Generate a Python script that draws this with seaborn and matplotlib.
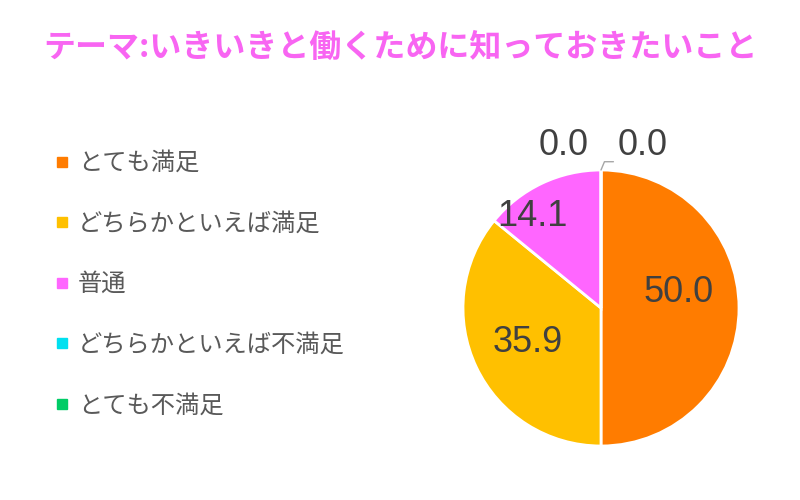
import numpy as np
import matplotlib
matplotlib.use("Agg")
import matplotlib.pyplot as plt
from matplotlib.lines import Line2D
import seaborn as sns

# data
categories = ["とても満足", "どちらかといえば満足", "普通", "どちらかといえば不満足", "とても不満足"]
values = [50.0, 35.9, 14.1, 0.0, 0.0]
colors = ["#FF7C00", "#FFC000", "#FF66FF", "#00E0F0", "#00CC66"]
title = "テーマ:いきいきと働くために知っておきたいこと"

sns.set_theme(style="white")
plt.rcParams["font.family"] = ["Noto Sans CJK JP", "DejaVu Sans"]

fig = plt.figure(figsize=(8, 5), dpi=100)
fig.patch.set_facecolor("white")

fig.text(0.5, 0.905, title, ha="center", va="center", fontsize=23,
         fontweight="bold", color="#F865F2")

# pie axes: centre (601, 308) px, radius 138 px
ax = fig.add_axes([(601 - 138) / 800, (500 - 446) / 500, 276 / 800, 276 / 500])
wedges, _ = ax.pie(values, colors=colors, startangle=90, counterclock=False,
                   radius=1.0, wedgeprops=dict(edgecolor="white", linewidth=2))
ax.set_xlim(-1, 1)
ax.set_ylim(-1, 1)
ax.set_aspect("equal")
ax.axis("off")

# value labels
label_font = dict(family=["Liberation Sans", "DejaVu Sans"], fontsize=26, color="#404040")
inner = [(0.565, 0.11), (-0.53, -0.25), (-0.50, 0.66)]
for (x, y), v in zip(inner, values[:3]):
    ax.text(x, y, f"{v:.1f}", ha="center", va="center", **label_font)

# zero slices sit at the top
ax.text(-0.27, 1.18, f"{values[3]:.1f}", ha="center", va="center", clip_on=False, **label_font)
ax.text(0.30, 1.18, f"{values[4]:.1f}", ha="center", va="center", clip_on=False, **label_font)
ax.plot([0.0, 0.025, 0.09], [1.0, 1.06, 1.06], color="#A6A6A6", lw=1, clip_on=False)

# legend
handles = [Line2D([0], [0], marker="s", linestyle="", markersize=7,
                  markerfacecolor=c, markeredgecolor=c) for c in colors]
leg = fig.legend(handles, categories, loc="upper left", bbox_to_anchor=(0.052, 0.724),
                 frameon=False, fontsize=17.5, labelspacing=1.42, handlelength=0.7,
                 handletextpad=0.3, borderpad=0)
for t in leg.get_texts():
    t.set_color("#595959")

fig.savefig("out.png", dpi=100, facecolor="white")
